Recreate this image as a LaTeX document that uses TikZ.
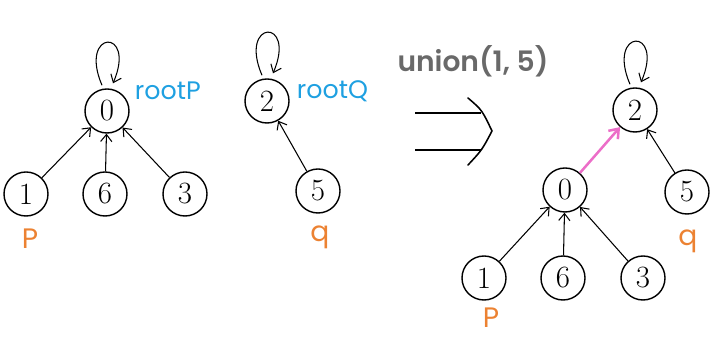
\documentclass[tikz,border=0pt]{standalone}
\usepackage{fontspec}
\usepackage{tikz}
\usetikzlibrary{arrows.meta}
\newfontfamily\labelfont{Poppins}
\newfontfamily\opfont{Poppins SemiBold}
\definecolor{rootblue}{RGB}{30,160,225}
\definecolor{ptrorange}{RGB}{236,130,50}
\definecolor{opgray}{RGB}{105,105,105}
\definecolor{linkpink}{RGB}{236,110,200}
\tikzstyle{elem}=[
        circle, draw, line width=1pt, minimum size=1.1cm, inner sep=0pt,
        font=\fontsize{22}{24}\selectfont
]
\tikzstyle{parent}=[
        line width=0.75pt, -{Straight Barb[length=5pt,width=8pt]}
]
\tikzstyle{rootlabel}=[
        text=rootblue, font=\labelfont\fontsize{18}{20}\selectfont
]
\tikzstyle{ptrlabel}=[
        text=ptrorange, font=\labelfont\fontsize{20}{22}\selectfont
]
\newcommand{\selfloop}[1]{
        \draw[parent] ([shift={(-5,-3)}]#1.north) .. controls +(-0.6cm,1.4cm) and +(0.6cm,1.4cm) .. ([shift={(6,-5)}]#1.north);
}

\begin{document}
\begin{tikzpicture}[x=0.025cm,y=-0.025cm]
                        \useasboundingbox (0,0) rectangle (719,347);

                        % tree rooted at 0, before
                        \node[elem] (a0) at (107,111) {0};
                        \node[elem] (a1) at (26,194) {1};
                        \node[elem] (a6) at (105,194) {6};
                        \node[elem] (a3) at (185,194) {3};
                        \foreach \c in {a1,a6,a3} {
                            \draw[parent] (\c) -- (a0);
                        }
                        \selfloop{a0}
                        \node[rootlabel, anchor=west] (rp) at (130,91) {rootP};
                        \node[ptrlabel] (pa) at (30,239) {P};

                        % tree rooted at 2, before
                        \node[elem] (b2) at (267,101) {2};
                        \node[elem] (b5) at (318,191) {5};
                        \draw[parent] (b5) -- (b2);
                        \selfloop{b2}
                        \node[rootlabel, anchor=west] (rq) at (292,91) {rootQ};
                        \node[ptrlabel] (qb) at (320,237) {q};

                        % the operation
                        \node[text=opgray, font=\opfont\fontsize{20}{22}\selectfont] (op) at (473,61) {union(1, 5)};
                        \coordinate (i1) at (415,113);
                        \coordinate (i2) at (415,150);
                        \coordinate (it) at (492,131);
                        \draw[line width=1.1pt] (i1) -- (481,113);
                        \draw[line width=1.1pt] (i2) -- (481,150);
                        \draw[line width=1.1pt, line cap=round] (468,98) .. controls (482,110) .. (it) .. controls (482,150) .. (468,165);

                        % after the union
                        \node[elem] (c2) at (635,110) {2};
                        \node[elem] (c5) at (687,192) {5};
                        \node[elem] (c0) at (565,190) {0};
                        \node[elem] (c1) at (484,278) {1};
                        \node[elem] (c6) at (563,278) {6};
                        \node[elem] (c3) at (643,278) {3};
                        \foreach \c in {c1,c6,c3} {
                            \draw[parent] (\c) -- (c0);
                        }
                        \draw[parent] (c5) -- (c2);
                        \selfloop{c2}
                        \draw[line width=1.8pt, linkpink, -{Straight Barb[length=6pt,width=9pt]}] (c0) -- (c2);
                        \node[ptrlabel] (pc) at (491,318) {P};
                        \node[ptrlabel] (qc) at (688,241) {q};

                    \end{tikzpicture}
\end{document}
